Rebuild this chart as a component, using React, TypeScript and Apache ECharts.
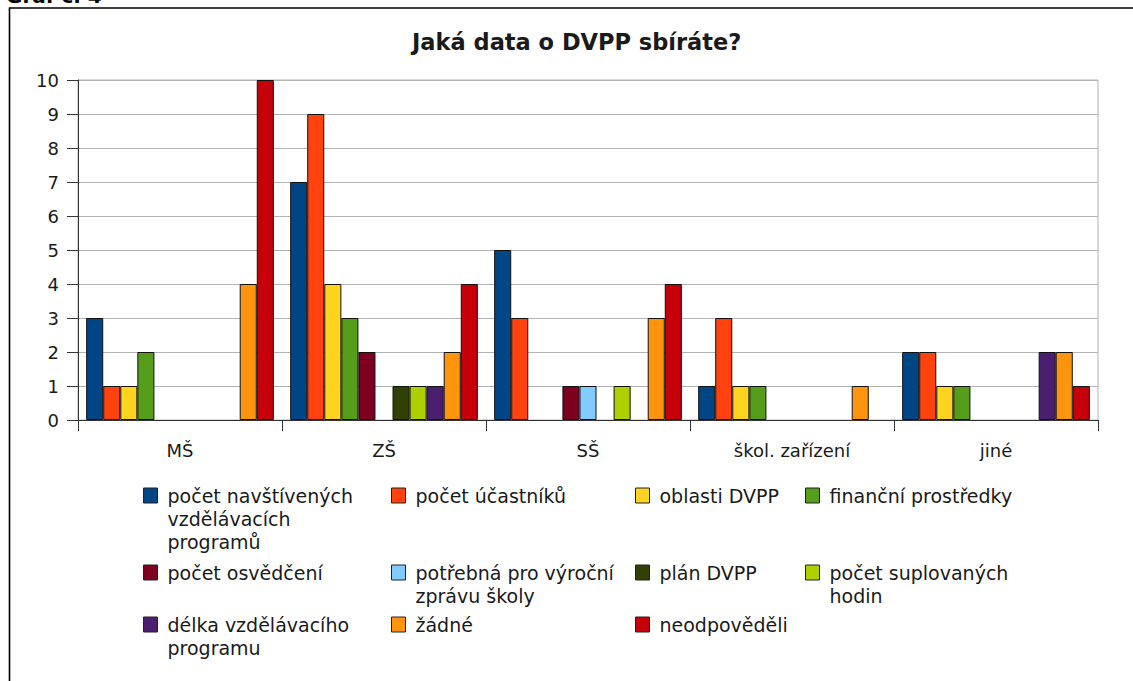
import React, { useEffect, useRef } from "react";
import * as echarts from "echarts";

const categories = ["MŠ", "ZŠ", "SŠ", "škol. zařízení", "jiné"];

const seriesNames = [
  "počet navštívených vzdělávacích programů",
  "počet účastníků",
  "oblasti DVPP",
  "finanční prostředky",
  "počet osvědčení",
  "potřebná pro výroční zprávu školy",
  "plán DVPP",
  "počet suplovaných hodin",
  "délka vzdělávacího programu",
  "žádné",
  "neodpověděli",
];

const legendLabels = [
  "počet navštívených\nvzdělávacích\nprogramů",
  "počet účastníků",
  "oblasti DVPP",
  "finanční prostředky",
  "počet osvědčení",
  "potřebná pro výroční\nzprávu školy",
  "plán DVPP",
  "počet suplovaných\nhodin",
  "délka vzdělávacího\nprogramu",
  "žádné",
  "neodpověděli",
];

const seriesColors = [
  "#004586",
  "#ff420e",
  "#ffd320",
  "#579d1c",
  "#7e0021",
  "#83caff",
  "#314004",
  "#aecf00",
  "#4b1f6f",
  "#ff950e",
  "#c5000b",
];

// values per series, in category order (MŠ, ZŠ, SŠ, škol. zařízení, jiné)
const navstiveneProgramy = [3, 7, 5, 1, 2];
const pocetUcastniku = [1, 9, 3, 3, 2];
const oblastiDvpp = [1, 4, 0, 1, 1];
const financniProstredky = [2, 3, 0, 1, 1];
const pocetOsvedceni = [0, 2, 1, 0, 0];
const vyrocniZprava = [0, 0, 1, 0, 0];
const planDvpp = [0, 1, 0, 0, 0];
const suplovaneHodiny = [0, 1, 1, 0, 0];
const delkaProgramu = [0, 1, 0, 0, 2];
const zadne = [4, 2, 3, 1, 2];
const neodpovedeli = [10, 4, 4, 0, 1];

const seriesValues = [
  navstiveneProgramy,
  pocetUcastniku,
  oblastiDvpp,
  financniProstredky,
  pocetOsvedceni,
  vyrocniZprava,
  planDvpp,
  suplovaneHodiny,
  delkaProgramu,
  zadne,
  neodpovedeli,
];

const yMin = 0;
const yMax = 10;
const yStep = 1;

const titleText = "Jaká data o DVPP sbíráte?";
const headingText = "Graf č. 4";

const FONT = "'DejaVu Sans', 'Liberation Sans', sans-serif";

export default function App() {
  const ref = useRef<HTMLDivElement>(null);

  useEffect(() => {
    if (!ref.current) return;
    const chart = echarts.init(ref.current, undefined, { renderer: "svg" });

    const colX = [143, 391, 635, 805];
    const rowTop = [488, 565, 617];
    const LH = 23;
    const IH = 15;

    const legends = seriesNames.map((name, i) => {
      const label = legendLabels[i];
      const n = label.split("\n").length;
      // prepend empty lines so that the first line is centred on the key
      const shown = "\n".repeat(n - 1) + label;
      const offset = Math.max(0, ((2 * n - 1) * LH - IH) / 2);
      return {
        show: true,
        data: [name],
        left: colX[i % 4],
        top: rowTop[Math.floor(i / 4)] - offset,
        padding: 0,
        icon: "rect",
        itemWidth: 14,
        itemHeight: IH,
        selectedMode: false,
        formatter: () => shown,
        itemStyle: { borderColor: "#222", borderWidth: 1 },
        textStyle: {
          fontFamily: FONT,
          fontSize: 19,
          lineHeight: LH,
          color: "#1a1a1a",
          padding: [0, 0, 0, 5],
        },
      };
    });

    chart.setOption({
      animation: false,
      backgroundColor: "#ffffff",
      title: {
        text: titleText,
        left: 407,
        top: 25,
        textStyle: {
          fontFamily: FONT,
          fontSize: 22.5,
          fontWeight: "bold",
          color: "#1a1a1a",
        },
      },
      graphic: [
        {
          type: "rect",
          shape: { x: 9.5, y: 8, width: 1300, height: 900 },
          style: { fill: "none", stroke: "#000", lineWidth: 1.6 },
          silent: true,
        },
        {
          type: "text",
          x: 6,
          y: -4,
          style: {
            text: headingText,
            fontFamily: FONT,
            fontSize: 20,
            fontWeight: "bold",
            fill: "#000",
            verticalAlign: "middle",
          },
          silent: true,
        },
      ],
      legend: legends,
      grid: {
        left: 78,
        right: 35,
        top: 80,
        bottom: 261,
        show: true,
        borderColor: "#b3b3b3",
        borderWidth: 1,
        backgroundColor: "transparent",
      },
      xAxis: {
        type: "category",
        data: categories,
        axisLine: { show: true, lineStyle: { color: "#333", width: 1 } },
        axisTick: { show: true, length: 11, lineStyle: { color: "#333" } },
        axisLabel: {
          fontFamily: FONT,
          fontSize: 18,
          color: "#1a1a1a",
          margin: 21,
        },
        splitLine: { show: false },
      },
      yAxis: {
        type: "value",
        min: yMin,
        max: yMax,
        interval: yStep,
        axisLine: { show: true, lineStyle: { color: "#333", width: 1 } },
        axisTick: { show: true, length: 11, lineStyle: { color: "#333" } },
        axisLabel: {
          fontFamily: FONT,
          fontSize: 18,
          color: "#1a1a1a",
          margin: 19,
        },
        splitLine: { show: true, lineStyle: { color: "#b3b3b3", width: 1 } },
      },
      series: seriesNames.map((name, i) => ({
        name,
        type: "bar",
        barGap: "0%",
        barCategoryGap: "8%",
        data: seriesValues[i].map((v) => (v === 0 ? null : v)),
        itemStyle: {
          color: seriesColors[i],
          borderColor: "#111",
          borderWidth: 1,
        },
      })),
    });

    return () => chart.dispose();
  }, []);

  return (
    <div
      ref={ref}
      style={{ position: "fixed", left: 0, top: 0, width: 1133, height: 681 }}
    />
  );
}
